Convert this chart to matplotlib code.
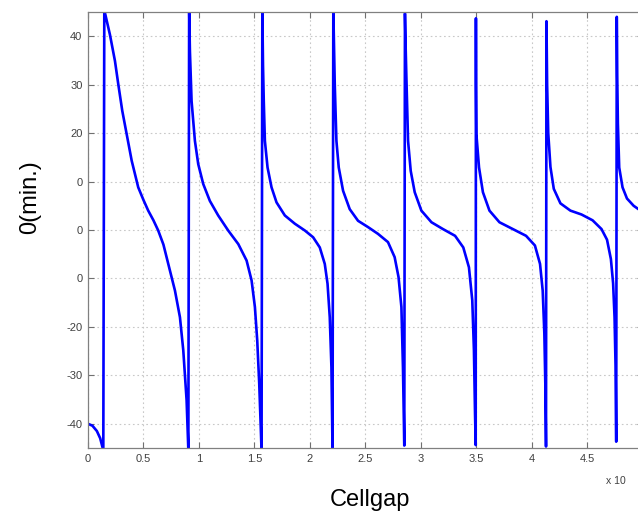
import matplotlib as mpl

mpl.use("Agg")
import matplotlib.pyplot as plt  # noqa: E402

plt.rcParams["font.family"] = ["Liberation Sans", "DejaVu Sans"]

# branches of the curve (x in units of the x10 offset)
b0_x = [0.0, 0.04, 0.08, 0.11, 0.138]
b0_y = [-40.0, -40.4, -41.5, -43.0, -45.5]
b1_x = [0.147, 0.153, 0.198, 0.243, 0.273, 0.309, 0.349, 0.394, 0.453, 0.50, 0.543, 0.59, 0.633,
        0.68, 0.724, 0.784, 0.829, 0.859, 0.889, 0.905]
b1_y = [45.5, 44.8, 40.3, 34.9, 30.1, 24.6, 19.8, 14.3, 8.8, 6.2, 4.0, 2.0, -0.1,
        -3.0, -7.0, -12.5, -18.0, -24.8, -35.1, -45.5]
b2_x = [0.912, 0.919, 0.934, 0.964, 0.994, 1.039, 1.099, 1.174, 1.264, 1.355, 1.43, 1.475,
        1.505, 1.526, 1.544, 1.56, 1.565]
b2_y = [45.5, 36.9, 26.6, 18.4, 13.6, 9.5, 6.0, 3.0, -0.1, -2.9, -6.3, -10.4,
        -15.9, -22.8, -31.7, -42.0, -45.5]
b3_x = [1.572, 1.578, 1.585, 1.595, 1.619, 1.655, 1.70, 1.775, 1.865, 1.955, 2.03, 2.09,
        2.135, 2.16, 2.18, 2.195, 2.205]
b3_y = [45.5, 34.0, 26.6, 18.4, 12.9, 8.8, 5.7, 3.0, 1.3, -0.1, -1.5, -3.6,
        -7.0, -11.1, -18.0, -28.3, -45.5]
b4_x = [2.212, 2.218, 2.225, 2.24, 2.261, 2.30, 2.36, 2.435, 2.525, 2.615, 2.705, 2.765,
        2.80, 2.826, 2.84, 2.852]
b4_y = [45.5, 38.0, 30.1, 18.4, 12.9, 8.1, 4.3, 1.9, 0.6, -0.8, -2.5, -5.6,
        -9.7, -15.9, -28.3, -44.5]
b5_x = [2.858, 2.864, 2.871, 2.886, 2.91, 2.946, 3.006, 3.097, 3.20, 3.31, 3.384, 3.435,
        3.465, 3.48, 3.49, 3.496]
b5_y = [44.7, 38.0, 31.4, 18.4, 12.2, 7.8, 4.0, 1.6, 0.2, -1.2, -3.6, -7.7,
        -14.5, -24.8, -38.0, -44.4]
b6_x = [3.498, 3.499, 3.502, 3.526, 3.561, 3.62, 3.71, 3.83, 3.95, 4.03, 4.076, 4.10,
        4.115, 4.124, 4.13]
b6_y = [43.7, 30.0, 19.8, 12.9, 7.8, 4.0, 1.6, 0.2, -1.2, -3.2, -7.0, -12.5,
        -21.4, -32.0, -44.7]
b7_x = [4.134, 4.14, 4.15, 4.17, 4.20, 4.26, 4.35, 4.45, 4.55, 4.63, 4.68, 4.715,
        4.735, 4.748, 4.757, 4.763]
b7_y = [43.1, 30.0, 20.0, 13.0, 8.5, 5.5, 4.0, 3.2, 2.0, 0.2, -2.0, -6.0,
        -11.0, -18.0, -28.0, -43.7]
b8_x = [4.768, 4.772, 4.778, 4.79, 4.82, 4.86, 4.92, 4.97, 5.0]
b8_y = [44.0, 32.0, 22.0, 12.9, 8.8, 6.5, 5.0, 4.2, 3.8]

xticks = [0, 0.5, 1, 1.5, 2, 2.5, 3, 3.5, 4, 4.5]
xtick_labels = ["0", "0.5", "1", "1.5", "2", "2.5", "3", "3.5", "4", "4.5"]
yticks = [-40, -30, -20, -10, 0, 10, 20, 30, 40]
ytick_labels = ["-40", "-30", "-20", "0", "0", "0", "20", "30", "40"]

xs = b0_x + b1_x + b2_x + b3_x + b4_x + b5_x + b6_x + b7_x + b8_x
ys = b0_y + b1_y + b2_y + b3_y + b4_y + b5_y + b6_y + b7_y + b8_y

fig = plt.figure(figsize=(6.38, 5.22), dpi=100)
ax = fig.add_axes([88 / 638, 1 - 448 / 522, 554.5 / 638, 436 / 522])
ax.plot(xs, ys, color="#0000ff", lw=1.9, solid_joinstyle="round")
ax.set_xlim(0, 5)
ax.set_ylim(-45, 45)
ax.set_xticks(xticks)
ax.set_xticklabels(xtick_labels)
ax.set_yticks(yticks)
ax.set_yticklabels(ytick_labels)
ax.grid(True, color="#c8c8c8", ls=(0, (1.5, 2.5)), lw=0.8)
ax.tick_params(direction="in", length=4, width=0.8, color="#707070",
               labelsize=8, labelcolor="#404040", top=True, right=True, pad=4)
for s in ax.spines.values():
    s.set_color("#808080")
    s.set_linewidth(0.9)

fig.text(616 / 638, 1 - 481 / 522, "x 10", fontsize=7.5, color="#404040", ha="center", va="center")
fig.text(370 / 638, 1 - 500 / 522, "Cellgap", fontsize=17, ha="center", va="center")
fig.text(30 / 638, 1 - 197 / 522, "0(min.)", fontsize=17, rotation=90, ha="center", va="center")

fig.savefig("out.png", dpi=100)
